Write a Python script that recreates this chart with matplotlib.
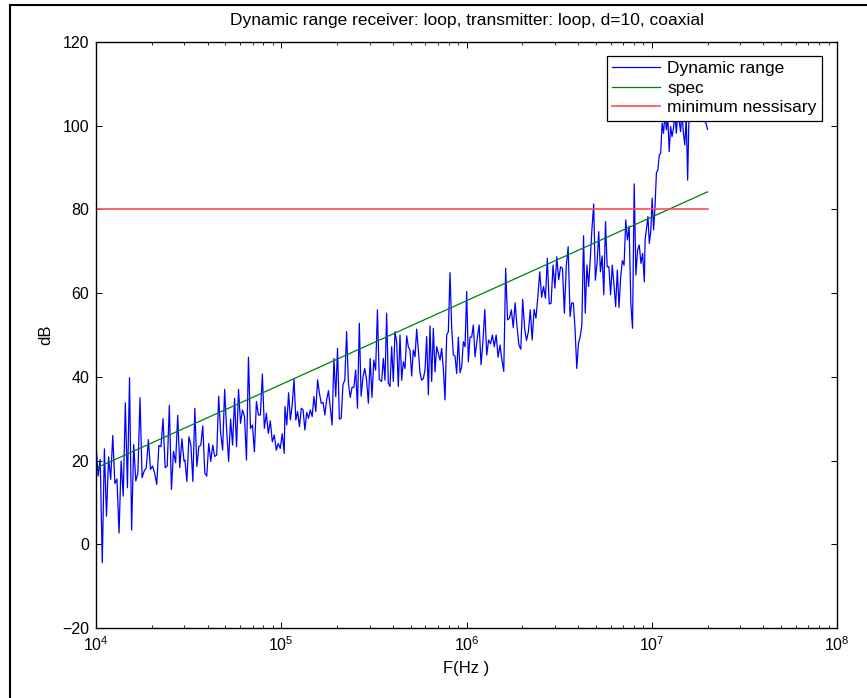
import numpy as np
import matplotlib
matplotlib.use("Agg")
import matplotlib.pyplot as plt
from matplotlib.lines import Line2D

plt.rcParams["font.family"] = ["Liberation Sans", "DejaVu Sans"]
plt.rcParams["mathtext.fontset"] = "custom"
plt.rcParams["mathtext.rm"] = "Liberation Sans"
plt.rcParams["mathtext.it"] = "Liberation Sans"

# ---------------------------------------------------------------------------
# Data
# ---------------------------------------------------------------------------

# each measured block covers a log10(f) range; the values inside are evenly spread
seg_logf = [
    (4.000, 4.475), (4.480, 5.016), (5.020, 5.529), (5.542, 6.046),
    (6.058, 6.559), (6.568, 6.960), (6.964, 7.301),
]

seg1_db = [24, 16.3, 20.3, -4.4, 22.8, 6.7, 20.9, 15.5, 26, 14.5, 15.6, 2.7,
           19.9, 11.5, 33.8, 13.5, 39.8, 3.4, 23.8, 15.1, 17.1, 35, 15.9, 17.5,
           18.3, 25, 17.9, 18.7, 17, 14.3, 23.6, 23.3, 30, 18.3, 18.7, 33.2,
           13.1, 22.2, 19.5, 30.8, 18.3, 25.2, 19.9]
seg2_db = [20.1, 15, 25.7, 23.7, 15, 32.5, 18.6, 23.3, 23.7, 28.3, 17, 16.3,
           24.1, 19.8, 23.7, 21, 21.3, 35.4, 26.5, 22.5, 37, 27.3, 19.8, 29.9,
           23.7, 34.9, 23.3, 37, 28.9, 32.1, 30.5, 20.1, 44.7, 27.7, 28.5, 22.1,
           34.1, 30.9, 30.9, 40.7, 27.7, 31.3, 26.5, 29.5, 24.5, 26.1, 22.5,
           24.1, 22.9, 26.4, 21.7]
seg3_db = [32.9, 28.5, 36.2, 29.7, 33.3, 39.4, 29.7, 31.7, 28.1, 32.5, 32.1,
           27.3, 31.5, 30.1, 32.1, 30.5, 35.3, 31.7, 39.3, 36.1, 33.7, 33.9,
           30.9, 34.6, 36.7, 32.5, 28.5, 44.4, 35.3, 46.8, 29.9, 30.1, 38.1,
           39.3, 50.8, 38.5, 35.1, 37.5, 37.5, 41.6, 32.5, 52.8, 35.4, 39.9,
           42.0, 39.3, 33.7, 44.4, 35.1, 44.0, 41.6, 56, 39.4]
seg4_db = [38.9, 44.4, 39.2, 55.2, 38.5, 37.7, 47.2, 38.9, 50.8, 48.4, 37.7,
           50, 39.2, 43.6, 42, 49.8, 47.2, 46.4, 40.2, 46.4, 44.8, 51.4, 46.4,
           41, 39.2, 39.6, 41.6, 49.6, 35.7, 52.2, 38.9, 51.6, 41.2, 47.2, 45.6,
           44, 46.8, 42, 34.5, 50, 50.8, 64.9, 51.8, 45.2, 45, 40.8, 49.5, 41,
           42.4, 48.4, 47.2, 60.4, 43.6, 49.5, 49.5, 52.4, 44.8]
seg5_db = [49.2, 52.4, 42.9, 48.4, 56.1, 45.2, 48.8, 47.9, 50, 47.2, 50, 44.7,
           47.6, 44.1, 41.3, 65.9, 53.6, 54, 56, 51.8, 57.7, 52, 47.6, 46.6,
           58.5, 51.6, 48.7, 50.8, 56, 48.8, 56.1, 54, 59.2, 65.1, 59, 61.6,
           58.8, 68.3, 57.4, 57.6, 66.7, 61.2, 68.7, 63.2, 66.3, 65.9, 55.2,
           66.5, 71.1, 54.4]
seg6_db = [57.7, 57.6, 51.2, 42, 48, 49.6, 52.4, 73.7, 55.2, 66.7, 61.6, 68.3,
           75.5, 81.3, 63.1, 67.1, 74.7, 65.1, 68.9, 59.6, 77.1, 66.3, 66.3,
           59.6, 66.7, 62, 56.8, 65.5, 56.6, 63.9, 67.8, 66.7, 77.5, 72.7, 76,
           57.6, 51.6, 86.1, 64.3, 70.3, 71.5, 67.1, 69.5, 62.7]
seg7_db = [72.7, 75.5, 78.3, 71.9, 74.7, 82.7, 75.1, 80.7, 88.8, 89.4, 93,
           93.4, 100.6, 98.2, 103, 99, 102, 93.8, 99.8, 97.4, 99.4, 103, 98.2,
           102.6, 101.4, 98.6, 103, 98.3, 95.4, 102.2, 87, 103.4, 105, 103.5,
           107, 104, 109, 105, 102.5, 106, 104, 103, 101, 100.6, 99.1]

spec_freq = [1e4, 2e7]
spec_db = [18.2, 84.2]
min_freq = [1e4, 2e7]
min_db = [80, 80]

# ---------------------------------------------------------------------------
# Plot
# ---------------------------------------------------------------------------

segments = [seg1_db, seg2_db, seg3_db, seg4_db, seg5_db, seg6_db, seg7_db]
freq = np.concatenate([np.logspace(a, b, len(v)) for (a, b), v in zip(seg_logf, segments)])
dyn_db = np.concatenate([np.asarray(v, dtype=float) for v in segments])

fig = plt.figure(figsize=(8.67, 6.98), dpi=100)
ax = fig.add_axes([96 / 867, 1 - 628 / 698, (837 - 96) / 867, (628 - 42) / 698])

ax.semilogx(freq, dyn_db, color=(0, 0, 1), lw=0.9, label="Dynamic range")
ax.semilogx(spec_freq, spec_db, color=(0, 0.5, 0), lw=0.9, label="spec")
ax.semilogx(min_freq, min_db, color=(1, 0.3, 0.3), lw=1.2, label="minimum nessisary")

ax.set_xlim(1e4, 1e8)
ax.set_ylim(-20, 120)
ax.set_yticks(np.arange(-20, 121, 20))
ax.tick_params(which="both", direction="in", top=True, right=True, labelsize=11.5)
ax.tick_params(which="major", length=4, width=0.7, pad=5)
ax.tick_params(which="minor", length=2, width=0.6)
for sp in ax.spines.values():
    sp.set_linewidth(1.0)

ax.set_xlabel("F(Hz )", fontsize=12, labelpad=5)
ax.set_ylabel("dB", fontsize=12, labelpad=6)
ax.set_title("Dynamic range receiver: loop, transmitter: loop, d=10, coaxial",
             fontsize=12.5, pad=12)

leg = ax.legend(loc="upper right", bbox_to_anchor=(822 / 867, 1 - 56 / 698),
                bbox_transform=fig.transFigure, fontsize=12.5, fancybox=False,
                framealpha=1, edgecolor="black", borderpad=0.3, borderaxespad=0,
                labelspacing=0.25, handlelength=2.8, handletextpad=0.4)
leg.get_frame().set_linewidth(0.9)

# thin frame around the figure like the original export
fig.add_artist(Line2D([9.5 / 867, 9.5 / 867], [0, 1 - 5 / 698], transform=fig.transFigure,
                      color="black", lw=1.5))
fig.add_artist(Line2D([9.5 / 867, 1], [1 - 5 / 698, 1 - 5 / 698], transform=fig.transFigure,
                      color="black", lw=1.5))

fig.savefig("out.png", dpi=100)
